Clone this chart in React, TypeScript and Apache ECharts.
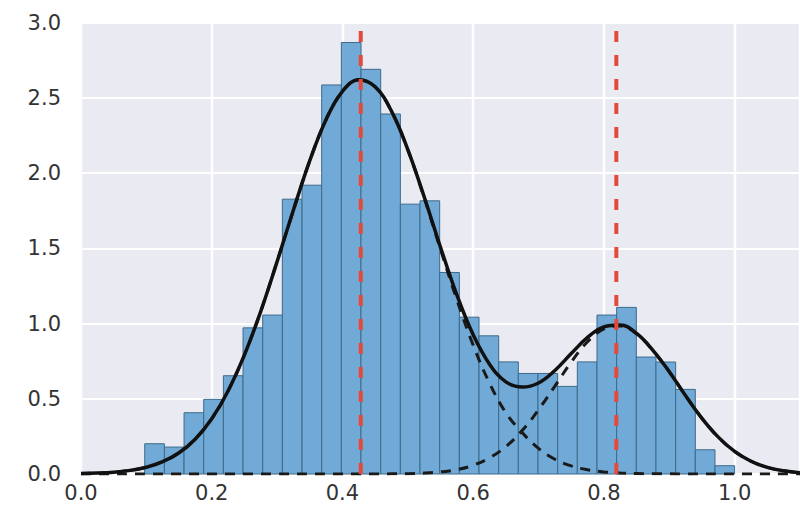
import React, { useEffect, useRef } from "react";
import * as echarts from "echarts";

// Histogram (density)
const histMin = 0.0975;
const histMax = 1.0;
const histDensity = [
  0.201, 0.179, 0.407, 0.496, 0.653, 0.971, 1.056, 1.826, 1.919, 2.585,
  2.867, 2.689, 2.392, 1.793, 1.815, 1.339, 1.042, 0.918, 0.745, 0.668,
  0.668, 0.582, 0.745, 1.056, 1.107, 0.777, 0.744, 0.562, 0.161, 0.055,
];

// Curves
const curveX = [
  0, 0.025, 0.05, 0.075, 0.1, 0.125, 0.15, 0.175, 0.2, 0.225, 0.25, 0.275,
  0.3, 0.325, 0.35, 0.375, 0.4, 0.425, 0.45, 0.475, 0.5, 0.525, 0.55, 0.575,
  0.6, 0.625, 0.65, 0.675, 0.7, 0.725, 0.75, 0.775, 0.8, 0.825, 0.85, 0.875,
  0.9, 0.925, 0.95, 0.975, 1.0, 1.025, 1.05, 1.075, 1.1,
];
const mixtureTotal = [
  0.003, 0.006, 0.012, 0.024, 0.045, 0.082, 0.141, 0.233, 0.367, 0.552,
  0.791, 1.081, 1.411, 1.754, 2.082, 2.356, 2.543, 2.62, 2.573, 2.411,
  2.156, 1.842, 1.507, 1.19, 0.925, 0.73, 0.612, 0.578, 0.605, 0.688,
  0.8, 0.908, 0.978, 0.99, 0.934, 0.822, 0.68, 0.52, 0.37, 0.245,
  0.15, 0.085, 0.044, 0.021, 0.009,
];
const component1 = [
  0.003, 0.006, 0.012, 0.024, 0.045, 0.082, 0.141, 0.233, 0.367, 0.552,
  0.791, 1.081, 1.411, 1.754, 2.082, 2.356, 2.543, 2.62, 2.573, 2.41,
  2.154, 1.836, 1.493, 1.158, 0.856, 0.604, 0.407, 0.275, 0.17, 0.098,
  0.054, 0.028, 0.014, 0.007, 0.003, 0.001, 0.001, 0, 0, 0,
  0, 0, 0, 0, 0,
];
const component2 = [
  0, 0, 0, 0, 0, 0, 0, 0, 0, 0,
  0, 0, 0, 0, 0, 0, 0, 0, 0.0003, 0.0009,
  0.002, 0.006, 0.014, 0.029, 0.058, 0.107, 0.182, 0.289, 0.427, 0.584,
  0.744, 0.879, 0.964, 0.983, 0.931, 0.82, 0.679, 0.52, 0.37, 0.245,
  0.15, 0.085, 0.044, 0.021, 0.009,
];
const componentMeans = [0.428, 0.819];

const xTicks = { min: 0, max: 1.1, interval: 0.2 };
const yTicks = { min: 0, max: 3, interval: 0.5 };

export default function App() {
  const ref = useRef<HTMLDivElement>(null);

  useEffect(() => {
    if (!ref.current) return;
    const chart = echarts.init(ref.current, null, { renderer: "svg" });
    const nb = histDensity.length;
    const bw = (histMax - histMin) / nb;
    const histData = histDensity.map((h, i) => [
      histMin + i * bw,
      histMin + (i + 1) * bw,
      h,
    ]);
    const pairs = (ys: number[]) => curveX.map((x, i) => [x, ys[i]]);
    const labelFont = {
      fontFamily: "DejaVu Sans",
      fontSize: 21,
      color: "#333333",
    };

    chart.setOption({
      animation: false,
      backgroundColor: "#ffffff",
      grid: {
        left: 81,
        right: 0,
        top: 22.5,
        bottom: 50,
        show: true,
        backgroundColor: "#EAEAF2",
        borderWidth: 0,
      },
      xAxis: {
        type: "value",
        min: xTicks.min,
        max: xTicks.max,
        interval: xTicks.interval,
        axisLine: { show: false },
        axisTick: { show: false },
        splitLine: { show: true, lineStyle: { color: "#ffffff", width: 2.4 } },
        axisLabel: {
          ...labelFont,
          margin: 8,
          showMaxLabel: false,
          formatter: (v: number) => v.toFixed(1),
        },
      },
      yAxis: {
        type: "value",
        min: yTicks.min,
        max: yTicks.max,
        interval: yTicks.interval,
        axisLine: { show: false },
        axisTick: { show: false },
        splitLine: { show: true, lineStyle: { color: "#ffffff", width: 2 } },
        axisLabel: {
          ...labelFont,
          margin: 20,
          formatter: (v: number) => v.toFixed(1),
        },
      },
      series: [
        {
          type: "custom",
          data: histData,
          encode: { x: [0, 1], y: 2 },
          z: 2,
          renderItem: (params: any, api: any) => {
            const p0 = api.coord([api.value(0), api.value(2)]);
            const p1 = api.coord([api.value(1), 0]);
            return {
              type: "rect",
              shape: {
                x: p0[0],
                y: p0[1],
                width: p1[0] - p0[0],
                height: p1[1] - p0[1],
              },
              style: { fill: "#71AAD7", stroke: "#3D6A8A", lineWidth: 1 },
            };
          },
        },
        {
          type: "line",
          data: pairs(component1),
          smooth: 0.4,
          showSymbol: false,
          z: 3,
          lineStyle: { color: "#1a1a1a", width: 3, type: [10, 8] },
        },
        {
          type: "line",
          data: pairs(component2),
          smooth: 0.4,
          showSymbol: false,
          z: 3,
          lineStyle: { color: "#1a1a1a", width: 3, type: [10, 8] },
        },
        {
          type: "line",
          data: pairs(mixtureTotal),
          smooth: 0.4,
          showSymbol: false,
          z: 4,
          lineStyle: { color: "#111111", width: 3.5 },
        },
        ...componentMeans.map((m) => ({
          type: "line",
          data: [
            [m, yTicks.min],
            [m, yTicks.max],
          ],
          showSymbol: false,
          z: 5,
          lineStyle: { color: "#E5493A", width: 4, type: [11, 13] },
        })),
      ],
    });
    return () => chart.dispose();
  }, []);

  return (
    <div
      ref={ref}
      style={{ position: "fixed", left: 0, top: 0, width: 800, height: 524 }}
    />
  );
}
